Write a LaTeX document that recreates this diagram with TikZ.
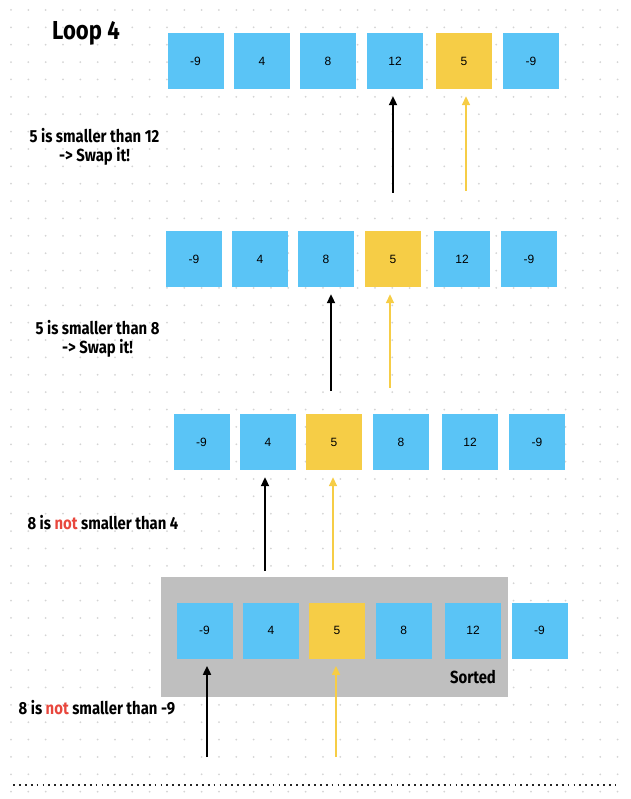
\documentclass[tikz,border=0pt]{standalone}
\usepackage{fontspec}
\usetikzlibrary{arrows.meta}
\setsansfont{Liberation Sans}
\newfontfamily\handfont{Fira Sans}[FakeStretch=0.85]
\definecolor{cellblue}{HTML}{5AC4F6}
\definecolor{cellyellow}{HTML}{F6CD46}
\definecolor{sortgray}{HTML}{BFBFBF}
\definecolor{notred}{HTML}{E8473D}
\definecolor{griddot}{HTML}{D4D4D4}

\begin{document}
\begin{tikzpicture}[x=1pt,y=-1pt,
		cell/.style={fill=cellblue, minimum size=56pt, inner sep=0pt, font=\sffamily\fontsize{12}{14}\selectfont},
		pick/.style={cell, fill=cellyellow},
		note/.style={font=\handfont\bfseries\fontsize{17.5}{19}\selectfont, align=center},
		blackarrow/.style={-{Triangle[width=8pt,length=9pt]}, line width=2pt, shorten >=7pt},
		yellowarrow/.style={blackarrow, draw=cellyellow, line width=1.6pt}]
				\useasboundingbox (0,0) rectangle (630,799);
				% dot grid
				\foreach \i in {0,...,35}
					\foreach \j in {0,...,45}
						\fill[griddot] (11+17.33*\i,10+17.37*\j) circle (1pt);
				
				\node[font=\handfont\bfseries\fontsize{26}{28}\selectfont] (title) at (86,33) {Loop 4};
				
				% row 1
				\node[cell] (r1c1) at (195.5,61) {-9};
				\node[cell] (r1c2) at (262,61) {4};
				\node[cell] (r1c3) at (328,61) {8};
				\node[cell] (r1c4) at (395,61) {12};
				\node[pick] (r1c5) at (464,61) {5};
				\node[cell] (r1c6) at (531,61) {-9};
				\node[note] (note1) at (94.5,147) {5 is smaller than 12\\-> Swap it!};
				\coordinate (r1b) at (393,193);
				\coordinate (r1y) at (466,191);
				\draw[blackarrow] (r1b) -- (r1b |- r1c4.south);
				\draw[yellowarrow] (r1y) -- (r1y |- r1c5.south);
				
				% row 2
				\node[cell] (r2c1) at (194,259) {-9};
				\node[cell] (r2c2) at (260,259) {4};
				\node[cell] (r2c3) at (326,259) {8};
				\node[pick] (r2c4) at (393,259) {5};
				\node[cell] (r2c5) at (462,259) {12};
				\node[cell] (r2c6) at (529,259) {-9};
				\node[note] (note2) at (97.5,339) {5 is smaller than 8\\-> Swap it!};
				\coordinate (r2b) at (331,391);
				\coordinate (r2y) at (390,388);
				\draw[blackarrow] (r2b) -- (r2b |- r2c3.south);
				\draw[yellowarrow] (r2y) -- (r2y |- r2c4.south);
				
				% row 3
				\node[cell] (r3c1) at (201.5,442) {-9};
				\node[cell] (r3c2) at (268,442) {4};
				\node[pick] (r3c3) at (334,442) {5};
				\node[cell] (r3c4) at (401,442) {8};
				\node[cell] (r3c5) at (470,442) {12};
				\node[cell] (r3c6) at (537,442) {-9};
				\node[note] (note3) at (103,523) {8 is {\color{notred}not} smaller than 4};
				\coordinate (r3b) at (265,571);
				\coordinate (r3y) at (333,570);
				\draw[blackarrow] (r3b) -- (r3b |- r3c2.south);
				\draw[yellowarrow] (r3y) -- (r3y |- r3c3.south);
				
				% row 4
				\node[fill=sortgray, minimum width=347pt, minimum height=120pt, inner sep=0pt] (sortbg) at (334.5,637) {};
				\node[note] (sortlbl) at (473,677) {Sorted};
				\node[cell] (r4c1) at (204.5,630.7) {-9};
				\node[cell] (r4c2) at (271,630.7) {4};
				\node[pick] (r4c3) at (337,630.7) {5};
				\node[cell] (r4c4) at (403.7,630.7) {8};
				\node[cell] (r4c5) at (473,630.7) {12};
				\node[cell] (r4c6) at (539.5,630.7) {-9};
				\node[note] (note4) at (97,708) {8 is {\color{notred}not} smaller than -9};
				\coordinate (r4b) at (207,757);
				\coordinate (r4y) at (336,757);
				\draw[blackarrow] (r4b) -- (r4b |- r4c1.south);
				\draw[yellowarrow] (r4y) -- (r4y |- r4c3.south);
				
				% bottom line
				\coordinate (dl) at (13,785);
				\coordinate (dr) at (616,785);
				\draw[line width=1.8pt, black!85, dash pattern=on 1.8pt off 4.1pt] (dl) -- (dr);
\end{tikzpicture}
\end{document}
